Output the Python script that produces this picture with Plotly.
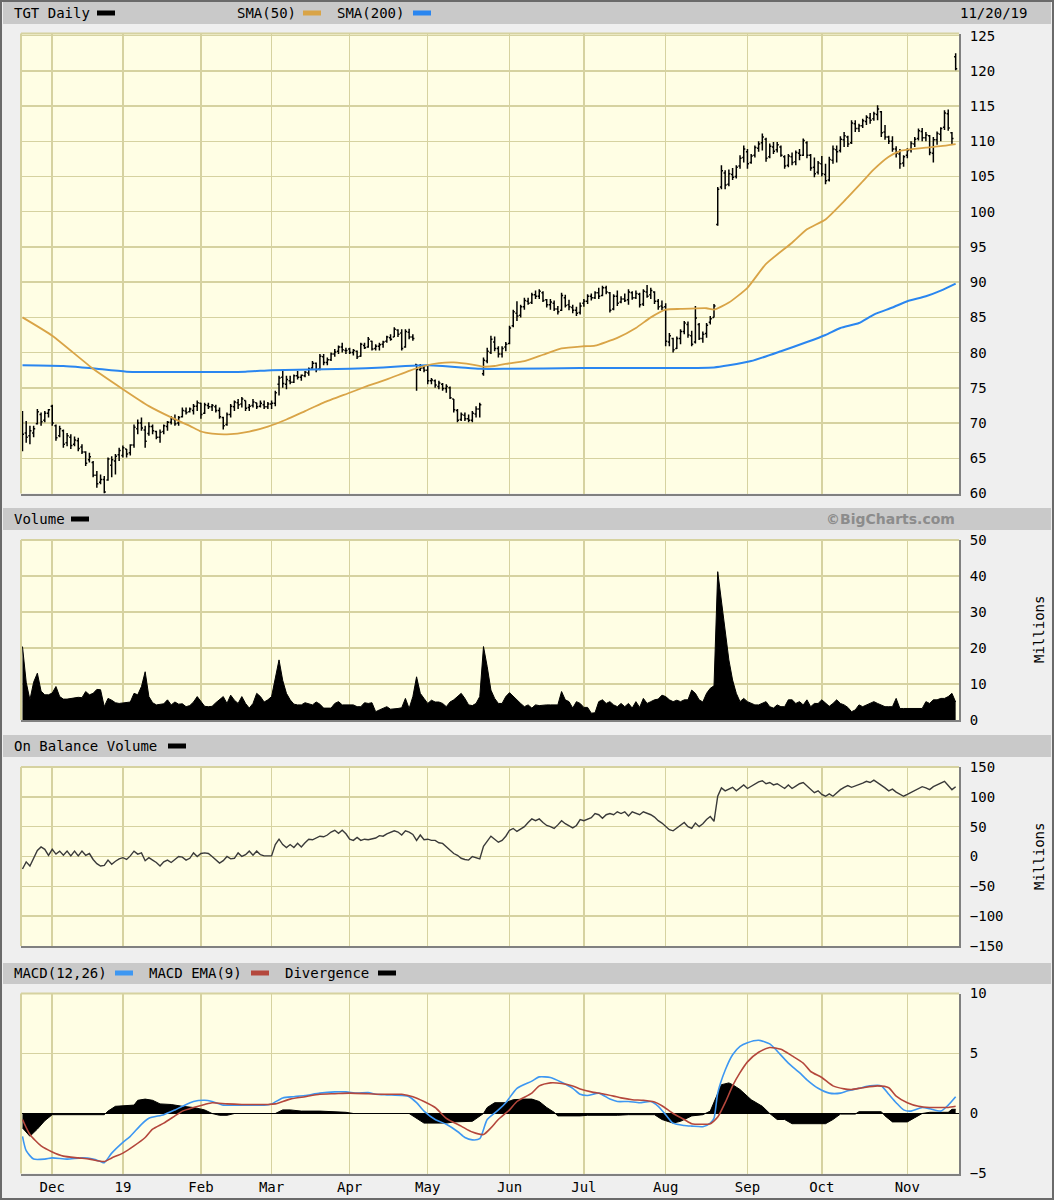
import pandas as pd
import plotly.graph_objects as go

# ---------------- calendar ----------------
HOLIDAYS = ["2018-11-22", "2018-12-05", "2018-12-25", "2019-01-01", "2019-01-21",
            "2019-02-18", "2019-04-19", "2019-05-27", "2019-07-04", "2019-09-02"]
dates = [d.strftime("%Y-%m-%d") for d in pd.bdate_range("2018-11-20", "2019-11-20")
         if d.strftime("%Y-%m-%d") not in HOLIDAYS]
month_labels = ["Dec", "19", "Feb", "Mar", "Apr", "May", "Jun", "Jul", "Aug", "Sep", "Oct", "Nov"]

# ---------------- price (OHLC) ----------------
opens = [70.8, 68.6, 68.2, 68.6, 69.9, 71.2, 70.4, 71.4,
         72.4, 69.6, 68.2, 68.9, 67.2, 68.0, 67.0, 67.5, 66.6, 65.9, 64.8, 64.4, 62.6, 61.6, 62.0, 61.9, 64.0, 64.6, 65.5,
         65.4, 66.3, 65.8, 66.9, 69.2, 70.0, 69.0, 68.5, 69.5, 68.8, 68.0, 68.8, 69.5, 70.1, 70.5, 70.0, 70.9, 71.7, 71.6, 71.8, 72.4,
         72.8, 71.4, 72.5, 72.3, 72.3, 71.8, 70.8, 69.8, 71.2, 72.3, 72.9, 72.7, 73.2, 72.2, 72.5, 72.9, 72.4, 72.6, 72.3,
         72.7, 72.8, 75.5, 76.5, 75.5, 76.0, 75.8, 76.7, 76.5, 76.7, 77.1, 77.8, 78.5, 77.7, 79.4, 78.6, 79.0, 79.8, 80.2, 80.8, 80.3,
         80.5, 80.0, 80.2, 79.5, 81.0, 80.8, 81.6, 80.6, 80.9, 81.2, 81.6, 82.1, 82.2, 83.2, 82.8, 80.8, 82.9, 82.2, 78.3, 77.6, 77.8,
         77.5, 76.0, 76.0, 75.2, 75.5, 74.9, 75.0, 73.4, 71.8, 70.5, 71.1, 70.6, 70.4, 71.3, 72.0, 77.0, 78.8, 80.0, 81.5, 80.6, 79.8, 80.8,
         81.3, 83.8, 85.6, 85.3, 86.5, 87.3, 87.1, 88.2, 88.0, 88.5, 87.5, 86.8, 87.0, 86.2, 86.0, 87.8, 86.8, 86.4, 86.0, 85.7,
         87.0, 87.3, 88.0, 87.8, 88.5, 88.1, 89.2, 88.5, 86.2, 88.0, 87.2, 87.6, 87.5, 88.5, 87.8, 88.3, 86.9, 88.6, 88.2, 88.6, 87.3, 86.6,
         86.5, 81.5, 82.0, 80.6, 82.0, 83.0, 84.0, 82.4, 81.5, 84.0, 82.0, 82.7, 84.3, 85.0, 98.2, 103.5, 105.5, 103.9, 105.3, 105.0, 106.5, 107.7,
         108.5, 107.0, 108.0, 109.0, 109.8, 110.3, 107.8, 109.2, 108.8, 109.2, 107.8, 106.6, 107.8, 107.1, 108.3, 108.0, 109.8, 108.0, 106.3, 105.6,
         106.8, 105.3, 104.5, 107.3, 108.8, 108.7, 110.2, 110.6, 109.8, 112.5, 111.8, 112.2, 112.8, 113.3, 113.2, 113.8, 114.2, 111.3, 110.6, 110.0, 108.9, 108.2, 106.9,
         108.0, 108.8, 109.6, 110.4, 111.4, 110.5, 110.8, 108.3, 110.2, 111.0, 112.0, 113.9, 111.2, 122.0]
highs = [71.7, 70.3, 69.6, 69.6, 72.0, 71.5, 71.7, 72.0,
         72.6, 69.8, 69.6, 69.1, 68.6, 68.4, 68.1, 67.9, 67.0, 66.0, 65.8, 64.6, 63.2, 62.7, 62.5, 65.1, 65.3, 65.6, 66.5,
         66.8, 66.3, 67.0, 69.8, 70.5, 70.8, 69.6, 70.1, 69.8, 68.9, 69.1, 69.8, 70.3, 71.0, 71.2, 71.0, 72.2, 72.2, 72.2, 72.7, 73.2,
         72.9, 72.9, 72.9, 72.7, 72.6, 72.2, 70.9, 71.5, 72.7, 73.2, 73.4, 73.7, 73.2, 72.7, 73.4, 72.9, 73.2, 73.2, 73.0,
         73.2, 74.6, 76.7, 77.4, 76.7, 76.7, 76.9, 77.4, 76.9, 77.4, 77.9, 78.8, 78.6, 79.8, 79.8, 79.3, 80.0, 80.5, 81.0, 81.4, 80.7,
         80.7, 80.5, 80.3, 81.4, 81.4, 82.2, 81.7, 81.2, 81.4, 81.7, 82.4, 82.6, 83.6, 83.3, 83.3, 83.3, 83.4, 82.6, 78.4, 78.4, 78.1,
         78.1, 76.4, 76.2, 76.0, 75.7, 75.5, 75.2, 73.4, 72.0, 71.5, 71.5, 71.2, 71.7, 72.4, 72.9, 79.3, 80.7, 82.4, 82.3, 80.9, 80.9, 81.5,
         83.8, 86.1, 87.3, 86.8, 87.8, 87.8, 88.5, 88.8, 89.0, 88.7, 87.6, 87.6, 87.4, 86.6, 88.5, 88.2, 87.5, 86.8, 86.5, 87.1,
         87.6, 88.3, 88.4, 88.7, 89.2, 89.5, 89.5, 88.6, 88.3, 88.8, 88.0, 88.4, 89.0, 88.7, 88.8, 88.5, 89.0, 89.6, 89.2, 88.7, 87.6, 87.4,
         87.0, 82.8, 82.1, 82.3, 83.3, 84.5, 84.4, 83.1, 86.6, 84.2, 83.0, 84.2, 85.2, 86.9, 103.5, 106.6, 105.9, 106.0, 106.2, 106.6, 108.0, 109.4,
         108.9, 108.2, 109.4, 110.0, 111.1, 110.5, 109.7, 109.9, 109.9, 109.4, 108.0, 108.2, 108.4, 108.7, 108.9, 110.4, 110.0, 108.2, 107.7, 107.2,
         107.9, 106.8, 107.8, 109.4, 109.4, 110.7, 111.3, 110.8, 113.0, 113.0, 112.5, 113.2, 113.7, 114.0, 114.2, 115.1, 114.3, 112.3, 110.8, 110.7, 109.3, 108.9, 108.0,
         109.0, 110.0, 110.6, 111.8, 111.9, 111.3, 110.9, 110.6, 111.4, 112.0, 114.4, 114.5, 111.3, 122.5]
lows = [66.0, 67.2, 67.0, 68.0, 69.8, 69.6, 70.1, 70.8,
        69.6, 67.5, 68.0, 66.5, 66.7, 66.3, 66.7, 66.0, 65.6, 63.9, 64.4, 62.3, 60.8, 61.3, 60.0, 61.8, 62.3, 62.7, 64.6,
        65.1, 65.1, 65.4, 66.5, 68.4, 68.9, 66.5, 68.2, 68.4, 67.7, 67.2, 68.4, 68.9, 69.8, 69.6, 69.6, 70.8, 71.2, 71.5, 71.2, 71.7,
        70.6, 71.3, 72.0, 71.7, 71.5, 70.6, 69.1, 69.6, 70.8, 71.7, 72.0, 72.2, 71.7, 71.7, 72.2, 72.0, 72.2, 72.0, 72.0,
        72.0, 72.4, 73.9, 75.0, 74.8, 75.5, 75.7, 76.2, 76.0, 76.5, 76.7, 77.7, 77.2, 77.5, 78.2, 78.2, 78.8, 79.4, 79.8, 80.0, 79.8,
        79.8, 79.6, 79.1, 79.4, 80.5, 80.7, 80.3, 80.3, 80.3, 80.7, 81.4, 81.7, 82.2, 82.2, 80.3, 80.7, 81.9, 81.7, 74.6, 77.4, 77.2,
        75.5, 75.5, 75.0, 74.8, 74.6, 74.3, 73.4, 71.5, 70.1, 70.3, 70.3, 70.1, 70.1, 70.8, 70.8, 76.7, 78.5, 79.8, 80.2, 79.3, 79.3, 80.2,
        81.2, 83.6, 84.5, 85.0, 86.1, 86.8, 86.9, 87.6, 87.6, 87.2, 86.4, 86.1, 85.9, 85.4, 85.9, 86.4, 86.0, 85.6, 85.2, 85.4,
        86.5, 86.9, 87.4, 87.6, 87.6, 88.0, 88.3, 85.7, 86.0, 86.6, 87.0, 87.2, 86.8, 87.5, 87.6, 86.4, 86.6, 87.8, 87.6, 86.9, 86.1, 86.0,
        80.9, 80.9, 80.0, 80.5, 81.2, 82.6, 82.1, 80.9, 81.3, 81.8, 81.4, 82.1, 84.0, 85.0, 98.0, 103.2, 103.2, 103.6, 104.5, 104.7, 106.1, 107.0,
        106.1, 106.8, 107.7, 108.5, 108.7, 107.1, 107.6, 108.2, 108.4, 107.8, 106.1, 106.3, 106.6, 106.6, 107.3, 107.9, 107.6, 105.8, 104.9, 105.3,
        105.0, 103.9, 104.3, 106.8, 107.0, 108.4, 109.2, 109.2, 109.6, 111.3, 111.3, 111.9, 112.3, 112.5, 112.9, 113.0, 110.6, 110.2, 109.6, 108.5, 107.7, 106.1, 106.4,
        107.6, 108.4, 109.2, 110.1, 110.0, 110.0, 108.0, 107.0, 109.5, 110.0, 111.6, 111.5, 109.6, 120.1]
closes = [68.4, 68.0, 68.9, 69.2, 71.6, 70.2, 71.4, 71.9,
          70.0, 67.9, 69.2, 67.0, 68.2, 66.8, 67.6, 66.4, 65.9, 64.3, 65.2, 62.6, 61.4, 62.0, 60.2, 64.9, 64.8, 65.3, 66.1,
          66.5, 65.6, 66.9, 69.4, 70.0, 69.3, 67.4, 69.5, 68.9, 68.0, 68.7, 69.6, 70.1, 70.6, 69.9, 70.8, 71.8, 71.5, 72.0, 72.4, 72.9,
          71.2, 72.6, 72.3, 72.5, 71.8, 70.9, 69.6, 71.2, 72.4, 73.0, 72.6, 73.4, 72.1, 72.4, 73.0, 72.3, 72.8, 72.3, 72.7,
          72.8, 74.3, 76.4, 75.6, 76.2, 75.8, 76.7, 76.5, 76.8, 77.2, 77.7, 78.5, 77.6, 79.5, 78.6, 79.0, 79.8, 80.1, 80.8, 80.4, 80.3,
          80.0, 80.3, 79.4, 81.2, 80.7, 81.9, 80.5, 80.9, 81.1, 81.5, 82.2, 81.9, 83.3, 82.6, 80.6, 83.0, 82.2, 82.0, 77.6, 77.8, 77.5,
          76.0, 76.1, 75.4, 75.7, 74.9, 75.2, 73.6, 71.9, 70.4, 71.2, 70.6, 70.4, 71.4, 72.0, 72.6, 78.9, 80.2, 81.9, 80.6, 79.8, 80.6, 81.2,
          83.5, 85.8, 85.2, 86.5, 87.4, 87.0, 88.2, 88.0, 88.7, 87.4, 86.8, 87.2, 86.2, 85.8, 88.1, 86.7, 86.5, 86.0, 85.6, 86.6,
          87.3, 88.0, 87.8, 88.5, 88.0, 89.2, 88.6, 86.0, 88.0, 87.0, 87.6, 87.4, 88.6, 87.8, 88.4, 86.8, 88.7, 88.0, 88.8, 87.3, 86.5, 86.4,
          81.6, 82.4, 80.4, 82.0, 83.0, 84.2, 82.5, 81.2, 84.9, 82.0, 82.6, 83.9, 84.8, 86.6, 103.2, 105.8, 103.8, 105.4, 104.9, 106.3, 107.6, 108.9,
          106.8, 107.9, 109.1, 109.6, 110.6, 107.6, 109.3, 108.6, 109.5, 108.0, 106.5, 107.9, 107.0, 108.4, 108.0, 110.1, 108.0, 106.2, 105.4, 106.9,
          105.4, 104.4, 107.4, 108.9, 108.5, 110.3, 110.8, 109.6, 112.6, 111.8, 112.2, 112.9, 113.4, 113.0, 113.9, 114.6, 111.2, 110.6, 110.0, 108.9, 108.3, 106.8, 107.8,
          108.7, 109.7, 110.3, 111.5, 110.5, 110.9, 108.4, 110.2, 111.1, 111.8, 114.0, 111.9, 110.4, 120.3]

# moving averages (sampled on trading-day numbers)
sma50_day = [0, 8, 19, 27, 34, 40, 45, 48, 51, 55, 61, 66, 71, 76, 81, 88, 93, 98, 104, 108,
             112, 116, 121, 124, 127, 130, 135, 140, 145, 151, 154, 160, 165, 169, 173, 177, 184, 186, 190, 195,
             200, 207, 211, 216, 221, 226, 229, 233, 236, 238, 243, 247, 251]
sma50 = [85.0, 82.4, 77.7, 74.8, 72.4, 70.8, 69.6, 68.8, 68.5, 68.4, 68.8, 69.5, 70.5, 71.7, 72.9, 74.3, 75.3, 76.2, 77.4, 78.1,
         78.5, 78.6, 78.3, 78.0, 78.1, 78.4, 78.8, 79.7, 80.6, 80.9, 81.0, 82.1, 83.5, 85.0, 86.1, 86.2, 86.3, 86.1, 87.1, 89.2,
         92.6, 95.6, 97.5, 98.9, 101.5, 104.3, 106.0, 107.8, 108.6, 108.8, 109.1, 109.3, 109.6]
sma200_day = [0, 11, 16, 20, 28, 60, 67, 88, 97, 103, 109, 113, 118, 123, 130, 150, 170, 186, 190, 196,
              204, 211, 216, 220, 225, 229, 234, 238, 243, 247, 251]
sma200 = [78.2, 78.1, 77.9, 77.7, 77.3, 77.3, 77.5, 77.7, 77.9, 78.1, 78.2, 78.1, 77.9, 77.7, 77.7, 77.8, 77.8, 77.9, 78.2, 78.8,
          80.2, 81.5, 82.5, 83.5, 84.2, 85.4, 86.4, 87.3, 88.0, 88.8, 89.8]

# ---------------- volume (millions) ----------------
volume = [20.4, 10.5, 5.6, 10.5, 13.0, 8.0, 7.0, 7.0,
          7.5, 9.3, 6.5, 5.8, 5.8, 6.0, 6.0, 6.3, 6.2, 7.9, 7.0, 7.4, 8.5, 8.4, 3.7, 6.0, 5.5, 4.8, 4.6,
          4.7, 4.8, 5.0, 7.4, 7.0, 9.3, 13.4, 6.5, 4.8, 4.2, 4.4, 4.5, 5.6, 4.2, 5.0, 4.4, 4.5, 3.7, 4.0, 5.0, 6.5,
          5.2, 3.8, 3.7, 3.8, 4.8, 5.6, 6.5, 4.6, 6.9, 5.5, 4.6, 6.5, 4.6, 3.3, 4.6, 7.4, 6.5, 5.0, 5.6,
          6.5, 12.0, 16.7, 11.0, 7.4, 5.6, 4.4, 4.2, 4.2, 4.8, 4.4, 4.2, 5.0, 4.4, 3.3, 3.2, 3.3, 4.6, 5.1, 4.2, 4.2,
          4.2, 4.2, 3.7, 3.7, 4.8, 4.6, 4.8, 2.3, 2.8, 3.2, 3.7, 3.0, 3.0, 3.2, 3.4, 6.0, 3.2, 6.5, 12.0, 7.4, 6.0,
          4.6, 5.5, 5.0, 5.0, 4.6, 3.7, 5.0, 5.6, 6.5, 7.4, 6.0, 4.2, 4.0, 4.6, 6.5, 20.4, 14.8, 8.3, 6.0, 4.6, 4.6, 6.5,
          7.6, 6.5, 5.6, 4.6, 3.7, 4.2, 3.3, 4.2, 4.0, 4.2, 4.2, 4.2, 4.2, 4.2, 7.9, 5.6, 5.1, 3.3, 5.1, 4.6,
          3.5, 3.5, 1.9, 2.0, 5.1, 5.6, 4.6, 5.1, 4.2, 3.7, 4.6, 3.7, 4.6, 3.3, 5.1, 3.5, 6.0, 4.6, 5.1, 5.6, 5.8, 6.9,
          6.5, 5.6, 5.1, 5.5, 5.1, 5.6, 5.6, 8.3, 7.4, 5.6, 5.0, 7.4, 8.8, 9.5, 41.2, 32.9, 25.0, 16.7, 11.1, 7.4, 5.1, 6.0,
          5.1, 4.6, 4.2, 4.2, 4.6, 5.1, 3.7, 3.3, 4.2, 3.7, 3.7, 5.6, 5.6, 4.6, 5.1, 4.2, 5.6, 3.7, 4.6, 4.6,
          5.6, 4.6, 3.8, 4.6, 5.6, 4.6, 4.2, 3.5, 2.3, 2.8, 4.2, 3.7, 4.2, 4.6, 5.1, 4.6, 4.2, 3.7, 3.7, 3.7, 6.0, 3.2, 3.2,
          3.2, 3.2, 3.2, 3.2, 3.2, 5.1, 4.6, 5.6, 5.6, 6.0, 6.0, 6.5, 7.4, 5.0]

# ---------------- on balance volume (millions) ----------------
obv = [-21, -9, -16, -2, 10, 16, 12, 2,
       12, 4, 9, 2, 9, 1, 9, 1, 9, 2, 5, -5, -12, -16, -15, -6, -13, -8, -4,
       -2, -5, 1, 9, 4, 6, -7, -2, -6, -10, -16, -9, -6, -10, -5, 0, -1, -6, -3, 6, 0,
       5, 6, 5, 0, -5, -11, -7, 0, -4, -3, 6, 0, 3, 9, 2, 9, 3, 1, 1,
       1, 20, 29, 20, 15, 20, 15, 22, 16, 23, 29, 28, 31, 34, 33, 36, 41, 44, 39, 44, 38,
       29, 27, 32, 27, 29, 28, 30, 31, 35, 34, 38, 40, 43, 41, 36, 43, 41, 37, 27, 36, 28,
       29, 27, 27, 23, 22, 16, 10, 5, 2, -3, -5, -6, 0, -2, -4, 17, 25, 34, 29, 24, 27, 34,
       44, 47, 42, 46, 50, 57, 63, 60, 63, 57, 52, 50, 47, 53, 60, 55, 51, 48, 52, 62,
       60, 63, 65, 72, 70, 64, 70, 72, 70, 75, 72, 75, 68, 75, 72, 70, 75, 73, 70, 66, 60, 56,
       51, 45, 43, 48, 53, 57, 50, 47, 56, 50, 55, 62, 67, 59, 101, 115, 110, 113, 116, 110, 115, 120,
       114, 118, 122, 125, 127, 122, 124, 120, 122, 118, 114, 120, 114, 118, 122, 124, 118, 112, 107, 110,
       104, 101, 105, 101, 107, 112, 116, 119, 116, 118, 120, 123, 126, 124, 128, 124, 120, 115, 110, 113, 108, 104, 101,
       104, 107, 110, 114, 117, 115, 112, 117, 120, 123, 126, 119, 112, 117]

# ---------------- MACD (sampled on trading-day numbers) ----------------
macd_day = [0, 1, 3, 6, 8, 12, 16, 19, 21, 22, 24, 27, 29, 32, 34, 38, 41, 43, 46, 49,
            51, 54, 57, 60, 62, 65, 67, 70, 73, 76, 80, 84, 87, 90, 93, 95, 98, 102, 104, 106,
            108, 111, 114, 117, 119, 121, 123, 125, 128, 130, 133, 137, 139, 142, 145, 148, 150, 152, 155, 158,
            160, 163, 166, 169, 171, 173, 175, 178, 180, 183, 185, 186, 187, 189, 191, 193, 195, 198, 201, 203,
            206, 209, 211, 214, 217, 220, 222, 225, 228, 231, 233, 235, 237, 239, 242, 244, 247, 249, 251]
macd = [-1.9, -3.1, -3.8, -3.8, -3.7, -3.8, -3.7, -3.8, -4.0, -4.1, -3.3, -2.4, -1.9, -0.9, -0.4, -0.1, 0.3, 0.6, 1.0, 1.1,
        1.0, 0.7, 0.7, 0.7, 0.7, 0.7, 0.8, 1.3, 1.4, 1.5, 1.7, 1.8, 1.8, 1.7, 1.75, 1.6, 1.55, 1.5, 1.4, 0.9,
        0.2, -0.5, -0.9, -1.5, -2.0, -2.2, -2.1, -0.5, 0.3, 0.9, 2.1, 2.7, 3.05, 3.0, 2.6, 2.1, 1.6, 1.5, 1.7, 1.2,
        1.0, 1.0, 0.9, 1.0, 0.6, -0.1, -0.8, -1.0, -1.05, -1.1, -0.8, -0.4, 1.7, 3.6, 4.9, 5.6, 5.9, 6.1, 5.8, 5.2,
        4.2, 3.4, 2.8, 2.1, 1.7, 1.7, 1.9, 2.1, 2.3, 2.3, 1.6, 0.9, 0.3, 0.2, 0.5, 0.4, 0.2, 0.7, 1.4]
signal_day = [0, 2, 5, 8, 11, 15, 18, 22, 24, 27, 30, 33, 35, 38, 41, 43, 46, 49, 51, 55,
              59, 62, 66, 68, 72, 76, 80, 84, 88, 93, 97, 102, 105, 108, 111, 114, 118, 121, 124, 126,
              128, 131, 133, 137, 139, 142, 145, 148, 150, 153, 156, 159, 161, 164, 167, 170, 172, 175, 178, 180,
              183, 185, 187, 189, 191, 193, 195, 198, 201, 204, 207, 210, 212, 215, 218, 221, 223, 226, 230, 233,
              235, 238, 241, 244, 246, 249, 251]
signal = [-0.5, -1.75, -2.7, -3.2, -3.55, -3.7, -3.8, -4.0, -3.7, -3.3, -2.7, -2.0, -1.3, -0.8, -0.2, 0.2, 0.5, 0.75, 0.9, 0.8,
          0.75, 0.75, 0.75, 0.8, 1.2, 1.4, 1.6, 1.65, 1.7, 1.65, 1.6, 1.6, 1.4, 1.0, 0.5, -0.4, -1.05, -1.55, -1.75, -1.2,
          -0.5, 0.3, 1.0, 1.7, 2.3, 2.55, 2.5, 2.3, 2.05, 1.8, 1.65, 1.45, 1.3, 1.15, 1.1, 0.95, 0.65, 0.0, -0.5, -0.85,
          -0.9, -0.85, -0.3, 0.9, 2.3, 3.4, 4.3, 5.1, 5.5, 5.35, 4.8, 4.2, 3.5, 3.0, 2.3, 2.05, 2.0, 2.15, 2.3, 2.15,
          1.45, 0.9, 0.6, 0.5, 0.5, 0.5, 0.6]
div_day = [0, 2, 4, 6, 8, 22, 23, 25, 30, 31, 33, 35, 37, 40, 43, 46, 49, 51, 53, 55,
           57, 68, 70, 72, 75, 80, 87, 89, 104, 106, 108, 114, 116, 121, 123, 124, 125, 127, 130, 132,
           135, 137, 139, 141, 143, 144, 150, 152, 160, 163, 170, 172, 175, 177, 180, 183, 185, 186, 188, 190,
           191, 193, 196, 199, 201, 203, 205, 207, 216, 218, 220, 224, 225, 231, 232, 234, 238, 240, 242, 244,
           249, 250, 251]
divergence = [-1.2, -1.9, -1.3, -0.6, -0.1, -0.1, 0.2, 0.6, 0.7, 1.1, 1.2, 1.1, 0.8, 0.75, 0.6, 0.5, 0.3, 0.0, -0.15, -0.15,
              0.0, 0.0, 0.3, 0.3, 0.2, 0.2, 0.1, 0.0, 0.0, -0.4, -0.8, -0.8, -0.7, -0.65, -0.2, 0.0, 0.5, 0.9, 0.9, 1.15,
              1.2, 1.2, 1.0, 0.5, 0.1, -0.2, -0.2, -0.15, -0.15, -0.1, -0.1, -0.5, -0.8, -0.65, -0.2, -0.1, 0.2, 0.9, 2.4, 2.55,
              2.4, 2.0, 1.15, 0.6, 0.0, -0.5, -0.5, -0.85, -0.85, -0.5, -0.05, -0.05, 0.15, 0.15, -0.2, -0.7, -0.7, -0.35, 0.0, 0.1,
              0.1, 0.35, 0.35]

# ---------------- geometry helpers ----------------
W, H, L, R = 1054, 1200, 21, 95
PW = W - L - R


def fx(p):
    return (p - L) / PW


def fy(p):
    return 1 - p / H


MONO = "DejaVu Sans Mono"
BG = "#efefef"
HEAD = "#c9c9c9"
PLOT_BG = "#fffee4"
GRID = "#d6d2a0"
EDGE = "#808080"
ORANGE = "#d9a447"
BLUE = "#2a86f0"
MACD_BLUE = "#3d97f2"
RED = "#b4473c"

month_ticks = [dates[i] for i in range(1, len(dates)) if dates[i][5:7] != dates[i - 1][5:7]]


def pick(days):
    return [dates[i] for i in days]


fig = go.Figure()

# price panel
fig.add_trace(go.Scatter(x=pick(sma200_day), y=sma200, mode="lines",
                         line=dict(color=BLUE, width=2, shape="spline", smoothing=0.5),
                         xaxis="x", yaxis="y", hoverinfo="skip"))
fig.add_trace(go.Scatter(x=pick(sma50_day), y=sma50, mode="lines",
                         line=dict(color=ORANGE, width=1.8, shape="spline", smoothing=0.5),
                         xaxis="x", yaxis="y", hoverinfo="skip"))
fig.add_trace(go.Ohlc(x=dates, open=opens, high=highs, low=lows, close=closes,
                      increasing=dict(line=dict(color="black", width=1.5)),
                      decreasing=dict(line=dict(color="black", width=1.5)),
                      tickwidth=0.42, xaxis="x", yaxis="y", hoverinfo="skip"))

# volume panel
fig.add_trace(go.Scatter(x=dates, y=volume, mode="lines", fill="tozeroy", fillcolor="black",
                         line=dict(color="black", width=1), xaxis="x2", yaxis="y2", hoverinfo="skip"))

# OBV panel
fig.add_trace(go.Scatter(x=dates, y=obv, mode="lines", line=dict(color="#3a3a3a", width=1.4),
                         xaxis="x3", yaxis="y3", hoverinfo="skip"))

# MACD panel
fig.add_trace(go.Scatter(x=pick(div_day), y=divergence, mode="lines", fill="tozeroy", fillcolor="black",
                         line=dict(color="black", width=1), xaxis="x4", yaxis="y4", hoverinfo="skip"))
fig.add_trace(go.Scatter(x=pick(macd_day), y=macd, mode="lines",
                         line=dict(color=MACD_BLUE, width=1.6, shape="spline", smoothing=0.6),
                         xaxis="x4", yaxis="y4", hoverinfo="skip"))
fig.add_trace(go.Scatter(x=pick(signal_day), y=signal, mode="lines",
                         line=dict(color=RED, width=1.6, shape="spline", smoothing=0.6),
                         xaxis="x4", yaxis="y4", hoverinfo="skip"))

panels = [("y", 33.5, 493.5, [60, 125.3], list(range(60, 126, 5))),
          ("y2", 540, 720, [0, 50], list(range(0, 51, 10))),
          ("y3", 767, 946, [-150, 150], list(range(-150, 151, 50))),
          ("y4", 993.5, 1173.5, [-5, 10], [-5, 0, 5, 10])]

layout = dict(width=W, height=H, autosize=False, showlegend=False,
              margin=dict(l=L, r=R, t=0, b=0, pad=0),
              paper_bgcolor=BG, plot_bgcolor=PLOT_BG,
              font=dict(family=MONO, size=14, color="black"))

for k, (ya, top, bot, rng, tv) in enumerate(panels):
    n = "" if k == 0 else str(k + 1)
    layout["xaxis" + n] = dict(
        domain=[0, 1], anchor=ya, type="category", categoryorder="array", categoryarray=dates,
        range=[-0.4, 251.9], tickmode="array", tickvals=month_ticks, ticktext=month_labels,
        showticklabels=(k == 3), ticks="", showgrid=True, gridcolor=GRID, gridwidth=1.5,
        showline=True, linecolor=EDGE, linewidth=2, zeroline=False, automargin=False,
        rangeslider=dict(visible=False), tickfont=dict(family=MONO, size=14),
        **({} if k == 0 else {"matches": "x"}))
    layout["yaxis" + n] = dict(
        domain=[fy(bot), fy(top)], anchor="x" + n, side="right", range=rng, tickmode="array",
        tickvals=tv, ticks="", ticklabelstandoff=6, showgrid=True, gridcolor=GRID, gridwidth=1.5,
        showline=True, linecolor=EDGE, linewidth=2, automargin=False,
        zeroline=(k == 3), zerolinecolor="black", zerolinewidth=1.5,
        tickfont=dict(family=MONO, size=14))

shapes = []
# outer frame
shapes.append(dict(type="rect", xref="paper", yref="paper", x0=fx(1), x1=fx(W - 1), y0=fy(H - 1), y1=fy(1),
                   line=dict(color="#6a6a6a", width=2), fillcolor="rgba(0,0,0,0)", layer="below"))
# header strips
for t, b in [(2, 24), (508, 530), (735, 757), (963, 984)]:
    shapes.append(dict(type="rect", xref="paper", yref="paper", x0=fx(3), x1=fx(W - 3), y0=fy(b), y1=fy(t),
                       line=dict(width=0), fillcolor=HEAD, layer="below"))
# left/top light borders of each plot
for k in range(4):
    n = "" if k == 0 else str(k + 1)
    shapes.append(dict(type="line", xref="x" + n + " domain", yref="y" + n + " domain", x0=0, x1=0, y0=0, y1=1,
                       line=dict(color=GRID, width=2)))
    shapes.append(dict(type="line", xref="x" + n + " domain", yref="y" + n + " domain", x0=0, x1=1, y0=1, y1=1,
                       line=dict(color=GRID, width=2)))

annotations = []


def head_text(txt, x, y, **kw):
    annotations.append(dict(text=txt, xref="paper", yref="paper", x=fx(x), y=fy(y), xanchor=kw.get("xanchor", "left"),
                            yanchor="middle", showarrow=False,
                            font=kw.get("font", dict(family=MONO, size=14, color="black"))))


def swatch(x, y, color):
    shapes.append(dict(type="rect", xref="paper", yref="paper", x0=fx(x), x1=fx(x + 18), y0=fy(y + 2.5), y1=fy(y - 2.5),
                       line=dict(width=0), fillcolor=color))


head_text("TGT Daily", 12, 13)
swatch(97, 13, "black")
head_text("SMA(50)", 235, 13)
swatch(303, 13, ORANGE)
head_text("SMA(200)", 335, 13)
swatch(413, 13, BLUE)
head_text("11/20/19", 1029, 13, xanchor="right")

head_text("Volume", 12, 519)
swatch(71, 519, "black")
head_text("©BigCharts.com", 957, 519, xanchor="right",
          font=dict(family="DejaVu Sans", size=14, color="#8c8c8c", weight="bold"))

head_text("On Balance Volume", 12, 746)
swatch(168, 746, "black")

head_text("MACD(12,26)", 12, 973)
swatch(115, 973, MACD_BLUE)
head_text("MACD EMA(9)", 147, 973)
swatch(251, 973, RED)
head_text("Divergence", 283, 973)
swatch(378, 973, "black")

for yc in [630, 857]:
    annotations.append(dict(text="Millions", xref="paper", yref="paper", x=fx(1039), y=fy(yc),
                            xanchor="center", yanchor="middle", textangle=-90, showarrow=False,
                            font=dict(family=MONO, size=14, color="black")))

layout["shapes"] = shapes
layout["annotations"] = annotations
fig.update_layout(**layout)

fig.write_html("out.html", config={"displayModeBar": False, "staticPlot": True},
               post_script="document.body.style.margin='0px';document.body.style.padding='0px';")
